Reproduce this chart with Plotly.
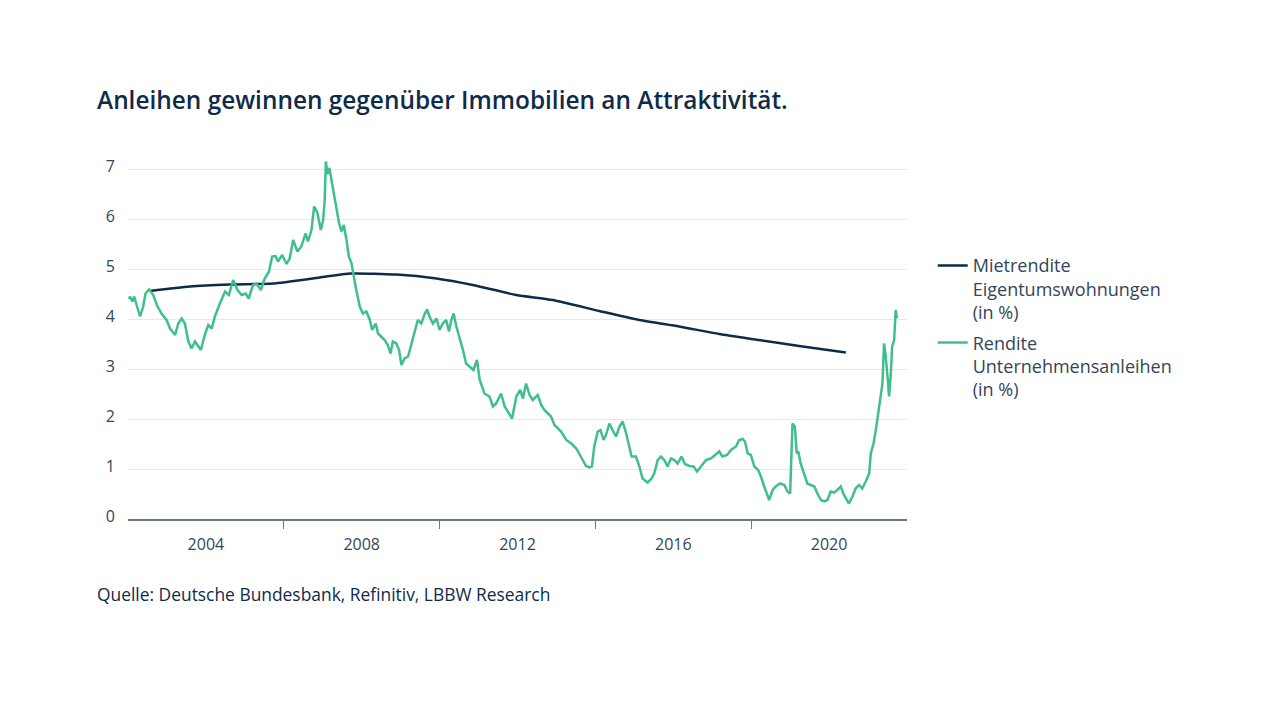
import plotly.graph_objects as go

title = "Anleihen gewinnen gegenüber Immobilien an Attraktivität."
source = "Quelle: Deutsche Bundesbank, Refinitiv, LBBW Research"
name_miet = "Mietrendite<br>Eigentumswohnungen<br>(in %)"
name_anl = "Rendite<br>Unternehmensanleihen<br>(in %)"

miet_x = [2002.56, 2003.59, 2004.62, 2005.72, 2006.92, 2007.72, 2008.90, 2009.92,
          2010.85, 2011.97, 2012.90, 2014.10, 2015.13, 2016.15, 2017.18, 2018.20,
          2019.23, 2020.43]
miet_y = [4.56, 4.65, 4.69, 4.71, 4.83, 4.91, 4.89, 4.81,
          4.68, 4.48, 4.38, 4.16, 3.98, 3.85, 3.70, 3.58,
          3.46, 3.33]

anl_x = [2002.03, 2002.05, 2002.11, 2002.16, 2002.22, 2002.31, 2002.39, 2002.45, 2002.54, 2002.65,
         2002.74, 2002.86, 2002.99, 2003.08, 2003.21, 2003.29, 2003.38, 2003.46, 2003.55, 2003.63,
         2003.72, 2003.80, 2003.87, 2003.97, 2004.06, 2004.15, 2004.23, 2004.36, 2004.49, 2004.59,
         2004.70, 2004.81, 2004.92, 2005.02, 2005.10, 2005.21, 2005.30, 2005.41, 2005.51, 2005.62,
         2005.70, 2005.79, 2005.85, 2005.96, 2006.07, 2006.15, 2006.24, 2006.35, 2006.45, 2006.56,
         2006.62, 2006.71, 2006.78, 2006.86, 2006.95, 2007.01, 2007.05, 2007.08, 2007.12, 2007.17,
         2007.22, 2007.28, 2007.35, 2007.42, 2007.48, 2007.54, 2007.61, 2007.67, 2007.74, 2007.79,
         2007.86, 2007.95, 2008.03, 2008.12, 2008.21, 2008.27, 2008.36, 2008.42, 2008.51, 2008.59,
         2008.67, 2008.74, 2008.80, 2008.89, 2008.96, 2009.02, 2009.10, 2009.19, 2009.27, 2009.36,
         2009.44, 2009.53, 2009.62, 2009.68, 2009.74, 2009.83, 2009.92, 2010.00, 2010.08, 2010.17,
         2010.24, 2010.30, 2010.36, 2010.43, 2010.51, 2010.60, 2010.68, 2010.77, 2010.87, 2010.96,
         2011.03, 2011.11, 2011.15, 2011.28, 2011.37, 2011.45, 2011.58, 2011.67, 2011.79, 2011.86,
         2011.97, 2012.07, 2012.14, 2012.22, 2012.31, 2012.39, 2012.52, 2012.61, 2012.69, 2012.78,
         2012.86, 2012.95, 2013.03, 2013.12, 2013.25, 2013.38, 2013.51, 2013.63, 2013.76, 2013.85,
         2013.91, 2013.97, 2014.06, 2014.13, 2014.21, 2014.27, 2014.36, 2014.44, 2014.53, 2014.62,
         2014.70, 2014.79, 2014.87, 2014.93, 2015.04, 2015.13, 2015.21, 2015.34, 2015.44, 2015.51,
         2015.60, 2015.68, 2015.77, 2015.85, 2015.94, 2016.03, 2016.11, 2016.21, 2016.30, 2016.41,
         2016.52, 2016.61, 2016.71, 2016.84, 2016.97, 2017.09, 2017.18, 2017.26, 2017.38, 2017.48,
         2017.61, 2017.69, 2017.78, 2017.84, 2017.91, 2017.99, 2018.08, 2018.18, 2018.25, 2018.32,
         2018.40, 2018.46, 2018.55, 2018.63, 2018.74, 2018.85, 2018.93, 2019.00, 2019.06, 2019.12,
         2019.17, 2019.21, 2019.27, 2019.36, 2019.44, 2019.53, 2019.62, 2019.70, 2019.79, 2019.87,
         2019.96, 2020.04, 2020.13, 2020.21, 2020.30, 2020.38, 2020.51, 2020.60, 2020.68, 2020.77,
         2020.85, 2020.94, 2021.03, 2021.07, 2021.14, 2021.20, 2021.26, 2021.33, 2021.37, 2021.41,
         2021.45, 2021.50, 2021.54, 2021.58, 2021.62, 2021.67, 2021.71, 2021.74]
anl_y = [4.40, 4.45, 4.35, 4.45, 4.28, 4.05, 4.25, 4.51, 4.59, 4.48,
         4.28, 4.11, 3.98, 3.81, 3.68, 3.91, 4.01, 3.91, 3.55, 3.41,
         3.55, 3.45, 3.38, 3.68, 3.88, 3.81, 4.05, 4.31, 4.55, 4.48,
         4.78, 4.58, 4.48, 4.51, 4.41, 4.68, 4.71, 4.58, 4.81, 4.95,
         5.25, 5.26, 5.15, 5.28, 5.10, 5.21, 5.58, 5.35, 5.45, 5.71,
         5.55, 5.78, 6.25, 6.13, 5.78, 5.98, 6.38, 7.15, 6.90, 7.02,
         6.78, 6.58, 6.18, 5.91, 5.75, 5.88, 5.58, 5.25, 5.11, 4.85,
         4.58, 4.25, 4.11, 4.15, 3.98, 3.78, 3.91, 3.71, 3.65, 3.58,
         3.48, 3.31, 3.55, 3.51, 3.38, 3.08, 3.21, 3.25, 3.48, 3.75,
         3.98, 3.91, 4.11, 4.19, 4.05, 3.91, 4.01, 3.78, 3.91, 3.98,
         3.75, 3.98, 4.11, 3.85, 3.65, 3.38, 3.11, 3.05, 2.98, 3.18,
         2.78, 2.61, 2.51, 2.45, 2.25, 2.31, 2.51, 2.25, 2.11, 2.01,
         2.45, 2.58, 2.41, 2.71, 2.48, 2.38, 2.48, 2.28, 2.18, 2.11,
         2.05, 1.88, 1.81, 1.75, 1.58, 1.51, 1.41, 1.25, 1.06, 1.03,
         1.05, 1.45, 1.75, 1.78, 1.58, 1.68, 1.91, 1.78, 1.65, 1.85,
         1.95, 1.71, 1.45, 1.25, 1.25, 1.05, 0.81, 0.73, 0.81, 0.91,
         1.18, 1.25, 1.18, 1.05, 1.21, 1.18, 1.11, 1.25, 1.10, 1.06,
         1.05, 0.95, 1.05, 1.18, 1.21, 1.28, 1.35, 1.25, 1.28, 1.38,
         1.45, 1.58, 1.60, 1.55, 1.31, 1.28, 1.05, 0.98, 0.85, 0.68,
         0.51, 0.38, 0.58, 0.65, 0.71, 0.68, 0.55, 0.51, 1.91, 1.85,
         1.31, 1.35, 1.11, 0.91, 0.71, 0.68, 0.65, 0.51, 0.38, 0.35,
         0.38, 0.55, 0.53, 0.58, 0.65, 0.48, 0.31, 0.45, 0.61, 0.68,
         0.61, 0.75, 0.91, 1.31, 1.51, 1.78, 2.11, 2.41, 2.71, 3.51,
         3.28, 2.85, 2.45, 2.85, 3.45, 3.58, 4.18, 4.01]

label_years = [2004, 2008, 2012, 2016, 2020]
tick_years = [2006, 2010, 2014, 2018]
y_ticks = [0, 1, 2, 3, 4, 5, 6, 7]

NAVY = "#0f2b4a"
GREEN = "#3ebf8c"
AXIS = "#6a7a8b"
TEXT = "#33455a"
FONT = "Open Sans"

fig = go.Figure()
fig.add_trace(go.Scatter(x=miet_x, y=miet_y, name=name_miet, mode="lines", legendgroup="a",
                         line=dict(color=NAVY, width=2.5, shape="spline", smoothing=0.6)))
fig.add_trace(go.Scatter(x=anl_x, y=anl_y, name=name_anl, mode="lines", legendgroup="b",
                         line=dict(color=GREEN, width=2.5)))

fig.update_layout(
    width=1280, height=720,
    paper_bgcolor="white", plot_bgcolor="white",
    margin=dict(l=120, r=381, t=151, b=209),
    font=dict(family=FONT, color=TEXT),
    title=dict(text=title, x=89/1280, xanchor="left", y=1-92/720, yanchor="middle",
               font=dict(family=FONT, size=24.4, color=NAVY, weight=600)),
    showlegend=True,
    legend=dict(x=1.033, xanchor="left", y=0.755, yanchor="top", valign="top",
                font=dict(family=FONT, size=18, color=TEXT), tracegroupgap=4,
                bgcolor="rgba(0,0,0,0)"),
    xaxis=dict(range=[2002, 2022], tickmode="array", tickvals=label_years,
               ticktext=[str(v) for v in label_years], ticks="",
               showgrid=False, zeroline=False, showline=True, linecolor=AXIS, linewidth=1.5,
               tickfont=dict(family=FONT, size=16, color=TEXT), ticklabelstandoff=10,
               minor=dict(tickmode="array", tickvals=tick_years, ticks="outside", ticklen=8,
                          tickcolor=AXIS, tickwidth=1, showgrid=False)),
    xaxis2=dict(range=[2002, 2022], overlaying="x", anchor="y", tickmode="array",
                tickvals=tick_years, ticks="inside", ticklen=8, tickcolor=AXIS, tickwidth=1,
                showticklabels=False, showgrid=False, zeroline=False, showline=False),
    yaxis=dict(range=[0, 7.2], tickmode="array", tickvals=y_ticks, showgrid=True,
               gridcolor="#e6e9ec", gridwidth=1, zeroline=False, showline=False, ticks="",
               tickfont=dict(family=FONT, size=16, color=TEXT), ticklabelstandoff=12,
               ticklabelshift=-3),
)

fig.add_annotation(text=source, xref="paper", yref="paper", x=-33/779, xanchor="left",
                   y=-(594-519)/360, yanchor="middle", showarrow=False,
                   font=dict(family=FONT, size=17.4, color=NAVY))

fig.write_html("out.html")
